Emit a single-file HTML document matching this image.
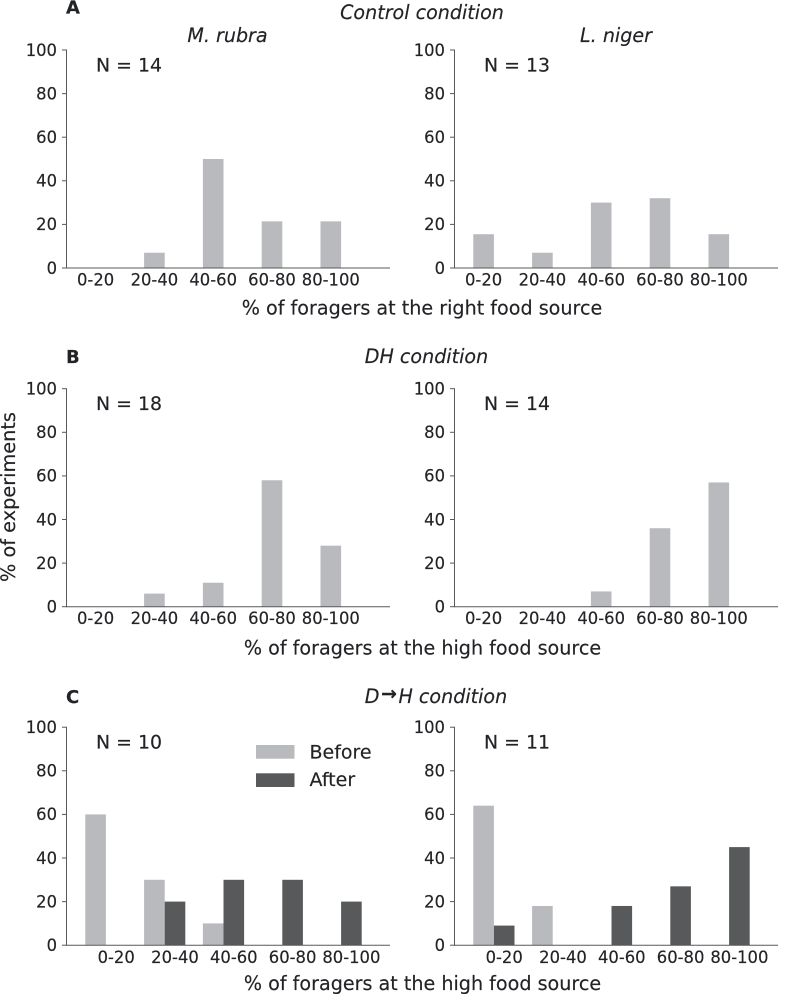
<!DOCTYPE html>
<html lang="en">
<head>
<meta charset="utf-8">
<title>Foragers at food source histograms</title>
<style>
html,body{margin:0;padding:0;background:#fff;}
svg{display:block;}
text{font-family:"DejaVu Sans",sans-serif;fill:#222326;stroke:#222326;stroke-width:0.15px;}
</style>
</head>
<body>
<svg id="figure" width="787" height="994" viewBox="0 0 787 994" xmlns="http://www.w3.org/2000/svg"></svg>
<script>
const categories = ['0-20', '20-40', '40-60', '60-80', '80-100'];
const yTicks = [0, 20, 40, 60, 80, 100];

const controlRubraBefore = [0, 7, 50, 21.4, 21.4];
const controlNigerBefore = [15.5, 7, 30, 32, 15.5];
const dhRubraBefore = [0, 6, 11, 58, 28];
const dhNigerBefore = [0, 0, 7, 36, 57];
const dtohRubraBefore = [60, 30, 10, 0, 0];
const dtohRubraAfter = [0, 20, 30, 30, 20];
const dtohNigerBefore = [64, 18, 0, 0, 0];
const dtohNigerAfter = [9, 0, 18, 27, 45];

const panels = [
  {name:'control-rubra', n:'N = 14', top:50, left:66.5, before:controlRubraBefore, after:null},
  {name:'control-niger', n:'N = 13', top:50, left:454.5, before:controlNigerBefore, after:null},
  {name:'dh-rubra', n:'N = 18', top:388.7, left:66.5, before:dhRubraBefore, after:null},
  {name:'dh-niger', n:'N = 14', top:388.7, left:454.5, before:dhNigerBefore, after:null},
  {name:'dtoh-rubra', n:'N = 10', top:727.2, left:66.5, before:dtohRubraBefore, after:dtohRubraAfter},
  {name:'dtoh-niger', n:'N = 11', top:727.2, left:454.5, before:dtohNigerBefore, after:dtohNigerAfter}
];

const NS = 'http://www.w3.org/2000/svg';
const svg = document.getElementById('figure');
const PLOT_H = 218, PLOT_W = 323.5, STEP = 58.8, BAR_W = 20.6, FIRST = 18.8;
const BEFORE = '#b9babd', AFTER = '#58595b', AXIS = '#58595b';

function make(tag, attrs, parent, txt){
  const el = document.createElementNS(NS, tag);
  for (const k in attrs) el.setAttribute(k, attrs[k]);
  if (txt !== undefined) el.textContent = txt;
  (parent || svg).appendChild(el);
  return el;
}

function addLabel(name, txt, x, y, size, opts){
  const el = make('text', Object.assign({x:x, y:y, 'font-size':size}, opts || {}), svg, txt);
  
  
  return el;
}

function yScale(p, v){ return p.top + PLOT_H - v / 100 * PLOT_H; }
function xScale(p, i){ return p.left + FIRST + i * STEP; }

function addBar(p, i, value, series, dx, color){
  if (!value) return;
  const y = yScale(p, value);
  const bar = make('rect', {x:xScale(p, i) + dx, y:y, width:BAR_W, height:yScale(p, 0) - y, fill:color});
  
  
}

panels.forEach(function(p){
  const base = yScale(p, 0);
  p.before.forEach(function(v, i){ addBar(p, i, v, 'before', 0, BEFORE); });
  if (p.after) p.after.forEach(function(v, i){ addBar(p, i, v, 'after', BAR_W, AFTER); });

  const yAxis = make('line', {x1:p.left, x2:p.left, y1:p.top - 0.5, y2:base + 0.5, stroke:AXIS, 'stroke-width':1});
  
  
  const xAxis = make('line', {x1:p.left, x2:p.left + PLOT_W, y1:base, y2:base, stroke:AXIS, 'stroke-width':1});
  
  

  yTicks.forEach(function(t){
    const y = yScale(p, t);
    const tick = make('line', {x1:p.left - 4.5, x2:p.left, y1:y, y2:y, stroke:AXIS, 'stroke-width':1});
    
    
    addLabel('y-tick-label-' + p.name + '-' + t, String(t), p.left - 9.5, y + 5.8, 16.4, {'text-anchor':'end'});
  });

  const shift = p.after ? BAR_W * 1.5 : BAR_W / 2;
  categories.forEach(function(c, i){
    addLabel('x-tick-label-' + p.name + '-' + c, c, xScale(p, i) + shift, base + (p.after ? 17.8 : 17.5), 16.4, {'text-anchor':'middle'});
  });

  addLabel('sample-size-' + p.name, p.n, p.left + 29.5, p.top + 21.5, 18.9);
});

addLabel('panel-letter-a', 'A', 66, 13.5, 18, {'font-weight':'bold'});
addLabel('panel-letter-b', 'B', 66, 363, 18, {'font-weight':'bold'});
addLabel('panel-letter-c', 'C', 66, 703, 18, {'font-weight':'bold'});

addLabel('title-control-condition', 'Control condition', 422, 19, 19.1, {'text-anchor':'middle','font-style':'italic'});
addLabel('title-m-rubra', 'M. rubra', 227.5, 42, 19.1, {'text-anchor':'middle','font-style':'italic'});
addLabel('title-l-niger', 'L. niger', 616, 42, 19.1, {'text-anchor':'middle','font-style':'italic'});
addLabel('title-dh-condition', 'DH condition', 426.5, 363, 19.1, {'text-anchor':'middle','font-style':'italic'});
const dToH = addLabel('title-d-to-h-condition', 'D', 436, 703, 19.1, {'text-anchor':'middle','font-style':'italic'});
make('tspan', {'font-weight':'bold', 'font-style':'normal', dx:1.5, dy:-3}, dToH, '\u2192');
make('tspan', {dx:1.5, dy:3}, dToH, 'H condition');

addLabel('x-axis-title-control', '% of foragers at the right food source', 422, 314.5, 19.15, {'text-anchor':'middle'});
addLabel('x-axis-title-dh', '% of foragers at the high food source', 422.5, 654.5, 19.15, {'text-anchor':'middle'});
addLabel('x-axis-title-dtoh', '% of foragers at the high food source', 422.5, 990, 19.15, {'text-anchor':'middle'});

const yTitle = addLabel('y-axis-title', '% of experiments', 0, 0, 19.3, {'text-anchor':'middle', transform:'translate(15 497) rotate(-90)'});

const legendBefore = make('rect', {x:256, y:745, width:38.5, height:13.7, fill:BEFORE});


const legendAfter = make('rect', {x:256, y:773.3, width:38.5, height:13.7, fill:AFTER});


addLabel('legend-label-before', 'Before', 309.5, 758.5, 19);
addLabel('legend-label-after', 'After', 309.5, 786, 19);
</script>
</body>
</html>
